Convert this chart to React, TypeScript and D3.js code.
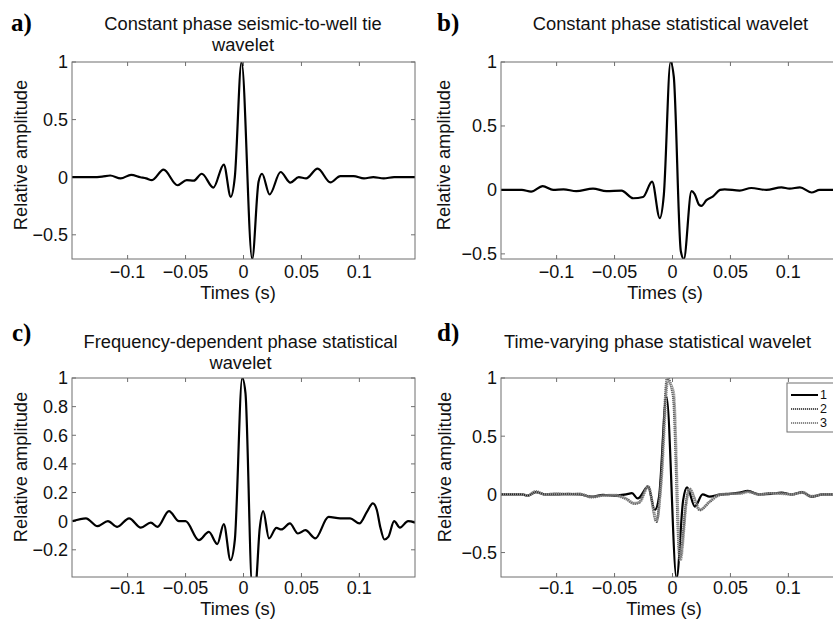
import React from "react";
import * as d3 from "d3";

// ---------- data ----------
const xDomain = [-0.148, 0.148];
const xTicks = [-0.1, -0.05, 0, 0.05, 0.1];
const xTickLabels = ["−0.1", "−0.05", "0", "0.05", "0.1"];

// a) Constant phase seismic-to-well tie wavelet
const aTimes = [-0.148, -0.13, -0.122, -0.115, -0.106, -0.097, -0.089, -0.084, -0.079, -0.069, -0.057, -0.049, -0.043, -0.036, -0.026, -0.017, -0.011, -0.0075, -0.0017, 0.0075, 0.013, 0.016, 0.0225, 0.032, 0.0405, 0.0477, 0.054, 0.064, 0.075, 0.0836, 0.095, 0.104, 0.112, 0.121, 0.13, 0.148];
const aValues = [0, 0, 0.005, 0.015, -0.01, 0.02, 0, -0.01, -0.026, 0.065, -0.07, -0.025, -0.03, 0.03, -0.09, 0.11, -0.17, 0, 1, -0.71, -0.04, 0.03, -0.15, 0.045, -0.047, 0, -0.01, 0.075, -0.045, 0.01, 0.01, -0.01, 0, -0.01, 0, 0];
const aYTicks = [-0.5, 0, 0.5, 1];

// b) Constant phase statistical wavelet
const bTimes = [-0.148, -0.13, -0.122, -0.112, -0.103, -0.094, -0.083, -0.0686, -0.057, -0.044, -0.034, -0.0254, -0.0176, -0.011, -0.0075, -0.0017, 0.0011, 0.0072, 0.0098, 0.0164, 0.019, 0.023, 0.025, 0.0293, 0.035, 0.041, 0.045, 0.058, 0.068, 0.081, 0.094, 0.101, 0.11, 0.12, 0.127, 0.148];
const bValues = [0, 0, -0.013, 0.03, 0, 0.005, -0.01, 0.01, -0.01, -0.005, -0.065, -0.055, 0.065, -0.22, -0.04, 1, 0.885, -0.48, -0.54, -0.01, -0.03, -0.117, -0.125, -0.08, -0.05, 0, 0.005, -0.005, 0.015, 0, 0.02, 0.01, 0.02, -0.02, 0, 0];
const bYTicks = [-0.5, 0, 0.5, 1];

// c) Frequency-dependent phase statistical wavelet
const cTimes = [-0.1475, -0.136, -0.126, -0.117, -0.109, -0.0987, -0.0886, -0.08, -0.0743, -0.0643, -0.0557, -0.05, -0.0385, -0.0299, -0.0226, -0.017, -0.0112, -0.0075, -0.0011, 0.0017, 0.0075, 0.0103, 0.014, 0.017, 0.022, 0.0284, 0.0327, 0.04, 0.047, 0.0534, 0.062, 0.0734, 0.0835, 0.092, 0.1, 0.1065, 0.1116, 0.115, 0.118, 0.1216, 0.125, 0.13, 0.135, 0.142, 0.148];
const cValues = [0, 0.02, -0.035, 0, -0.04, 0.02, -0.045, -0.01, -0.04, 0.07, 0, 0, -0.133, -0.075, -0.16, -0.02, -0.273, -0.133, 1, 0.895, -0.45, -0.45, -0.05, 0.07, -0.12, -0.047, -0.058, -0.016, -0.086, -0.063, -0.12, 0.03, 0.02, 0.02, -0.016, 0.065, 0.124, 0.08, -0.04, -0.128, -0.11, 0, -0.045, 0, -0.01];
const cYTicks = [-0.2, 0, 0.2, 0.4, 0.6, 0.8, 1];

// d) Time-varying phase statistical wavelet (three windows)
const dTimes1 = [-0.148, -0.13, -0.125, -0.118, -0.11, -0.1, -0.09, -0.08, -0.07, -0.06, -0.05, -0.04, -0.035, -0.03, -0.021, -0.0153, -0.0116, -0.0052, 0.0035, 0.0092, 0.0126, 0.0193, 0.026, 0.032, 0.041, 0.05, 0.058, 0.065, 0.075, 0.085, 0.094, 0.103, 0.112, 0.12, 0.13, 0.148];
const dValues1 = [0, 0, -0.01, 0.02, 0, 0, 0.005, 0, -0.02, -0.005, -0.01, 0, 0.01, -0.035, 0.066, -0.135, -0.02, 0.84, -0.72, -0.05, 0.06, -0.105, 0, -0.02, 0, 0.005, 0.015, 0.03, 0, 0.005, 0.015, 0, 0.02, -0.02, 0, 0];
const dTimes2 = [-0.148, -0.13, -0.125, -0.118, -0.11, -0.1, -0.09, -0.08, -0.07, -0.06, -0.05, -0.04, -0.033, -0.029, -0.021, -0.0138, -0.01, -0.0046, 0.0005, 0.0063, 0.012, 0.0143, 0.0236, 0.032, 0.041, 0.05, 0.058, 0.065, 0.075, 0.085, 0.094, 0.103, 0.112, 0.12, 0.13, 0.148];
const dValues2 = [0, 0, -0.01, 0.025, 0, 0.005, 0, 0.005, -0.025, -0.01, -0.01, -0.04, -0.08, -0.07, 0.07, -0.235, 0.1, 1, 0.85, -0.55, -0.05, 0.05, -0.135, -0.065, -0.005, 0.005, 0.01, 0.025, 0, 0.01, 0.01, 0, 0.015, -0.02, 0, 0];
const dTimes3 = [-0.148, -0.13, -0.125, -0.118, -0.11, -0.1, -0.09, -0.08, -0.07, -0.06, -0.05, -0.04, -0.033, -0.028, -0.021, -0.0135, -0.0095, -0.004, 0.001, 0.0068, 0.0122, 0.0147, 0.024, 0.032, 0.041, 0.05, 0.058, 0.065, 0.075, 0.085, 0.094, 0.103, 0.112, 0.12, 0.13, 0.148];
const dValues3 = [0, 0, -0.01, 0.02, 0, 0.005, 0, 0, -0.02, -0.01, -0.005, -0.035, -0.075, -0.065, 0.065, -0.22, 0.12, 0.97, 0.88, -0.57, -0.06, 0.045, -0.13, -0.06, 0, 0.005, 0.005, 0.02, 0, 0.01, 0.005, 0, 0.02, -0.015, 0, 0];
const dYTicks = [-0.5, 0, 0.5, 1];
const legendLabels = ["1", "2", "3"];

// ---------- rendering ----------
const SANS = '"Liberation Sans", Arial, Helvetica, sans-serif';
const SERIF = '"Liberation Serif", "Times New Roman", serif';
const AXIS = "#6f6f6f";
const TICK = 4;

type Series = { times: number[]; values: number[]; stroke: string; width: number; dash?: string };

function fmt(v: number) {
  const s = String(Math.round(v * 100) / 100);
  return s.replace("-", "−");
}

function Panel(p: {
  id: string;
  left: number; right: number; top: number; bottom: number;
  yDomain: [number, number]; yTicks: number[];
  series: Series[];
  titleLines: string[]; titleX: number; titleY: number;
  letter: string; letterX: number; letterY: number;
  ylabelX: number; ylabelY: number;
  xlabelX: number; xlabelY: number; xtickY: number;
  legend?: { x: number; y: number; labels: string[]; series: Series[] };
}) {
  const x = d3.scaleLinear().domain(xDomain).range([p.left, p.right]);
  const y = d3.scaleLinear().domain(p.yDomain).range([p.bottom, p.top]);
  const clipId = "clip-" + p.id;
  return (
    <g>
      <defs>
        <clipPath id={clipId}>
          <rect x={p.left} y={p.top} width={p.right - p.left} height={p.bottom - p.top} />
        </clipPath>
      </defs>
      {xTicks.map((t) => (
        <g key={"xt" + t}>
          <line x1={x(t)} x2={x(t)} y1={p.bottom} y2={p.bottom - TICK} stroke={AXIS} strokeWidth={1} />
          <line x1={x(t)} x2={x(t)} y1={p.top} y2={p.top + TICK} stroke={AXIS} strokeWidth={1} />
        </g>
      ))}
      {p.yTicks.map((t) => (
        <g key={"yt" + t}>
          <line x1={p.left} x2={p.left + TICK} y1={y(t)} y2={y(t)} stroke={AXIS} strokeWidth={1} />
          <line x1={p.right} x2={p.right - TICK} y1={y(t)} y2={y(t)} stroke={AXIS} strokeWidth={1} />
        </g>
      ))}
      <g clipPath={`url(#${clipId})`}>
        {p.series.map((s, i) => {
          const pts = s.times.map((t, k) => [t, s.values[k]] as [number, number]);
          const line = d3
            .line<[number, number]>()
            .x((d) => x(d[0]))
            .y((d) => y(d[1]))
            .curve(d3.curveMonotoneX);
          return (
            <path key={i} d={line(pts) || ""} fill="none" stroke={s.stroke} strokeWidth={s.width}
              strokeDasharray={s.dash} strokeLinejoin="round" />
          );
        })}
      </g>
      <rect x={p.left} y={p.top} width={p.right - p.left} height={p.bottom - p.top} fill="none" stroke={AXIS} strokeWidth={1} />
      {xTicks.map((t, i) => (
        <text key={"xl" + t} x={x(t)} y={p.xtickY} textAnchor="middle" fontFamily={SANS} fontSize={18} fill="#111">
          {xTickLabels[i]}
        </text>
      ))}
      {p.yTicks.map((t) => (
        <text key={"yl" + t} x={p.left - 4} y={y(t)} dy="0.36em" textAnchor="end" fontFamily={SANS} fontSize={18} fill="#111">
          {fmt(t)}
        </text>
      ))}
      <text x={p.xlabelX} y={p.xlabelY} textAnchor="middle" fontFamily={SANS} fontSize={18.3} fill="#111">Times (s)</text>
      <text transform={`translate(${p.ylabelX},${p.ylabelY}) rotate(-90)`} textAnchor="middle" fontFamily={SANS} fontSize={18.3} fill="#111">
        Relative amplitude
      </text>
      {p.titleLines.map((l, i) => (
        <text key={"ti" + i} x={p.titleX} y={p.titleY + i * 21} textAnchor="middle" fontFamily={SANS} fontSize={18.3} fill="#111">
          {l}
        </text>
      ))}
      <text x={p.letterX} y={p.letterY} fontFamily={SERIF} fontWeight="bold" fontSize={25} fill="#000">{p.letter}</text>
      {p.legend && (
        <g>
          <rect x={p.legend.x} y={p.legend.y} width={70} height={49} fill="#fff" stroke={AXIS} strokeWidth={1} />
          {p.legend.labels.map((lab, i) => {
            const s = p.legend!.series[i];
            const yy = p.legend!.y + 12 + i * 14;
            return (
              <g key={"lg" + i}>
                <line x1={p.legend!.x + 4} x2={p.legend!.x + 31} y1={yy} y2={yy} stroke={s.stroke}
                  strokeWidth={2} strokeDasharray={s.dash} />
                <text x={p.legend!.x + 33} y={yy} dy="0.35em" fontFamily={SANS} fontSize={12.5} fill="#111">{lab}</text>
              </g>
            );
          })}
        </g>
      )}
    </g>
  );
}

export default function App() {
  const black = (times: number[], values: number[]): Series => ({ times, values, stroke: "#000", width: 2.2 });
  const dSeries: Series[] = [
    { times: dTimes1, values: dValues1, stroke: "#000", width: 2.2 },
    { times: dTimes2, values: dValues2, stroke: "#555", width: 2.6, dash: "1.2,0.8" },
    { times: dTimes3, values: dValues3, stroke: "#8a8a8a", width: 2.6, dash: "1.2,0.8" },
  ];
  return (
    <svg width={833} height={621} viewBox="0 0 833 621"
      style={{ position: "absolute", left: 0, top: 0, background: "#fff" }}>
      <rect x={0} y={0} width={833} height={621} fill="#fff" />
      <Panel id="a" left={72} right={415} top={62} bottom={259} yDomain={[-0.71, 1]} yTicks={aYTicks}
        series={[black(aTimes, aValues)]}
        titleLines={["Constant phase seismic-to-well tie", "wavelet"]} titleX={243} titleY={29.5}
        letter="a)" letterX={11} letterY={31}
        ylabelX={26.5} ylabelY={155} xlabelX={238} xlabelY={299} xtickY={278} />
      <Panel id="b" left={501} right={844} top={62} bottom={259} yDomain={[-0.54, 1]} yTicks={bYTicks}
        series={[black(bTimes, bValues)]}
        titleLines={["Constant phase statistical wavelet"]} titleX={670.5} titleY={29.5}
        letter="b)" letterX={437} letterY={31}
        ylabelX={450} ylabelY={155} xlabelX={665} xlabelY={299} xtickY={278} />
      <Panel id="c" left={72} right={415} top={378} bottom={577} yDomain={[-0.39, 1]} yTicks={cYTicks}
        series={[black(cTimes, cValues)]}
        titleLines={["Frequency-dependent phase statistical", "wavelet"]} titleX={240.5} titleY={348}
        letter="c)" letterX={12} letterY={341}
        ylabelX={26.5} ylabelY={467} xlabelX={238} xlabelY={615} xtickY={594} />
      <Panel id="d" left={501} right={844} top={378} bottom={577} yDomain={[-0.71, 1]} yTicks={dYTicks}
        series={dSeries}
        titleLines={["Time-varying phase statistical wavelet"]} titleX={657.5} titleY={348}
        letter="d)" letterX={437} letterY={341}
        ylabelX={451} ylabelY={467} xlabelX={664} xlabelY={615} xtickY={594}
        legend={{ x: 787, y: 383, labels: legendLabels, series: dSeries }} />
    </svg>
  );
}
